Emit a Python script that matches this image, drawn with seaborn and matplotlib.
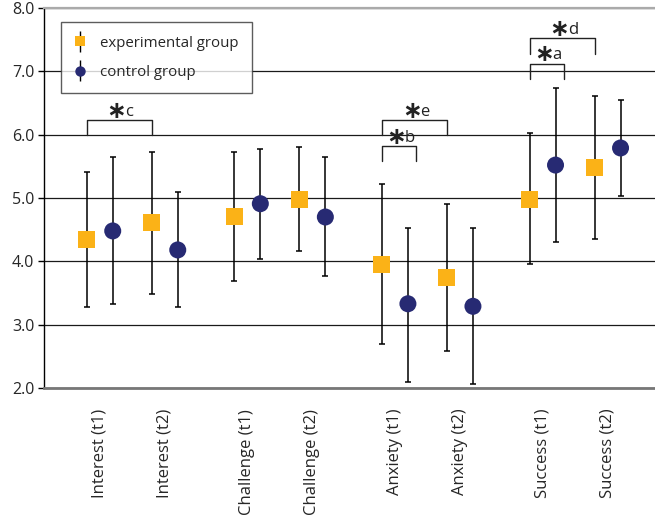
import numpy as np
import pandas as pd
import seaborn as sns
import matplotlib.pyplot as plt
from matplotlib.container import ErrorbarContainer
from matplotlib.legend_handler import HandlerErrorbar

categories = ["Interest (t1)", "Interest (t2)", "Challenge (t1)", "Challenge (t2)",
              "Anxiety (t1)", "Anxiety (t2)", "Success (t1)", "Success (t2)"]

exp_mean = [4.35, 4.62, 4.71, 4.98, 3.95, 3.74, 4.98, 5.48]
exp_low = [3.28, 3.49, 3.69, 4.17, 2.70, 2.59, 3.96, 4.35]
exp_high = [5.41, 5.72, 5.72, 5.80, 5.22, 4.91, 6.03, 6.61]

ctrl_mean = [4.48, 4.18, 4.91, 4.70, 3.33, 3.29, 5.52, 5.79]
ctrl_low = [3.32, 3.28, 4.04, 3.77, 2.10, 2.06, 4.30, 5.03]
ctrl_high = [5.65, 5.10, 5.78, 5.65, 4.52, 4.52, 6.73, 6.54]

# significance markers: (from category, to category, label)
sig_pairs = [(0, 1, "c"), (4, 5, "e"), (4, 4, "b"), (6, 7, "d"), (6, 6, "a")]
sig_levels = [6.23, 6.23, 5.82, 7.52, 7.12]

ORANGE = "#FBB217"
NAVY = "#272A73"

sns.set_theme(style="white")
plt.rcParams["font.family"] = ["Open Sans", "DejaVu Sans"]

# pairs of categories with a wider gap between pairs
pos = np.array([i + 0.27 * (i // 2) for i in range(len(categories))])
off = 0.2

df = pd.DataFrame({
    "x": np.concatenate([pos - off, pos + off]),
    "y": exp_mean + ctrl_mean,
    "group": ["experimental group"] * 8 + ["control group"] * 8,
})

fig = plt.figure(figsize=(6.55, 5.24), dpi=100)
ax = fig.add_axes([44 / 655, 1 - 388 / 524, 1 - 44 / 655, 380 / 524])

for mean, low, high, sign in [(exp_mean, exp_low, exp_high, -1),
                              (ctrl_mean, ctrl_low, ctrl_high, 1)]:
    m = np.array(mean)
    ax.errorbar(pos + sign * off, m, yerr=[m - np.array(low), np.array(high) - m],
                fmt="none", ecolor="black", elinewidth=1.1, capsize=2.2,
                capthick=1.1, zorder=2)

sns.scatterplot(data=df, x="x", y="y", hue="group", style="group",
                palette={"experimental group": ORANGE, "control group": NAVY},
                markers={"experimental group": "s", "control group": "o"},
                s=150, linewidth=0, legend=False, zorder=3, ax=ax)

# brackets
for (a, b, lab), lev in zip(sig_pairs, sig_levels):
    x0 = pos[a] - off
    x1 = pos[b] - off if b != a else pos[a] + 0.33
    ax.plot([x0, x0, x1, x1], [lev - 0.24, lev, lev, lev - 0.24],
            color="#222222", lw=1.0, zorder=2)
    xs = (x0 + x1) / 2 + 0.09
    ax.text(xs + 0.02, lev + 0.15, "\u2217", fontsize=17, family="DejaVu Sans",
            weight="bold", ha="right", va="center", color="#222222")
    ax.text(xs, lev + 0.07, lab, fontsize=12, ha="left", va="baseline",
            color="#222222")

# legend handles with error bars
h1 = ax.errorbar([np.nan], [np.nan], yerr=[[np.nan], [np.nan]], fmt="s",
                 color=ORANGE, ecolor="black", elinewidth=1, capsize=2.5,
                 capthick=1, ms=7.5, mew=0)
h2 = ax.errorbar([np.nan], [np.nan], yerr=[[np.nan], [np.nan]], fmt="o",
                 color=NAVY, ecolor="black", elinewidth=1, capsize=2.5,
                 capthick=1, ms=7.5, mew=0)
leg = ax.legend([h1, h2], ["experimental group", "control group"],
                loc="upper left", bbox_to_anchor=(0.028, 0.963),
                borderaxespad=0, fontsize=10.8, frameon=True, fancybox=False,
                handlelength=0.73, handletextpad=0.97, borderpad=0.9,
                labelspacing=0.95,
                handler_map={ErrorbarContainer: HandlerErrorbar(yerr_size=0.7)})
leg.get_frame().set_edgecolor("#333333")
leg.get_frame().set_linewidth(1.0)
leg.set_zorder(5)

ax.set_xlim(-0.857, 8.54)
ax.set_ylim(2.0, 8.0)
ax.set_yticks(np.arange(2, 9))
ax.set_yticklabels([f"{v:.1f}" for v in np.arange(2, 9)], fontsize=11.5)
ax.set_xticks(pos)
ax.set_xticklabels(categories, rotation=90, fontsize=12)
ax.tick_params(axis="x", length=0, pad=15)
ax.tick_params(axis="y", length=4, width=1, color="black", direction="out",
               left=True, pad=3)
ax.set_xlabel("")
ax.set_ylabel("")

ax.grid(axis="y", color="#1a1a1a", lw=0.9)
ax.set_axisbelow(True)
ax.spines["right"].set_visible(False)
ax.spines["left"].set_color("black")
ax.spines["left"].set_linewidth(1.0)
ax.spines["top"].set_color("#aaaaaa")
ax.spines["top"].set_linewidth(1.6)
ax.spines["bottom"].set_color("#777777")
ax.spines["bottom"].set_linewidth(2.0)

fig.savefig("out.png", dpi=100)
